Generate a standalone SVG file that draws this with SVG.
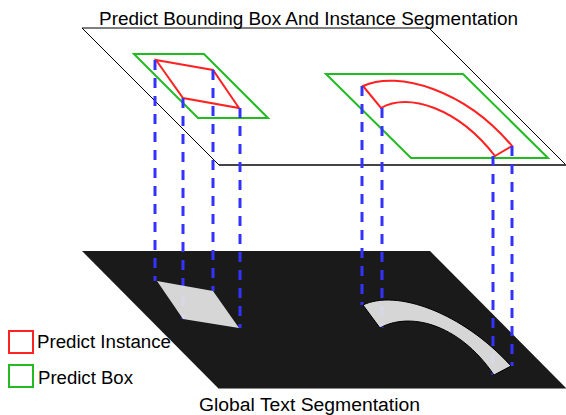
<svg xmlns="http://www.w3.org/2000/svg" width="566" height="415" viewBox="0 0 566 415">
<style>
.lbl{font-family:"Liberation Sans",Arial,sans-serif;font-size:18px;fill:#000}
.box{fill:none;stroke:#22bb22;stroke-width:2}
.inst{fill:none;stroke:#ff2222;stroke-width:2}
.seg{fill:#e6e6e6;fill-opacity:0.92}
.proj{stroke:#3333ff;stroke-width:3;stroke-dasharray:10 8;fill:none}
</style>
<rect width="566" height="415" fill="#fff"/>
<g id="top-plane">
<polygon points="82,28 429,28 566,165 219,165" fill="#fff" stroke="#000" stroke-width="1"/>
<line x1="219" y1="165" x2="566" y2="165" stroke="#444" stroke-width="2"/>
</g>
<g id="bottom-plane">
<polygon points="82,251 430,251 566,388 218,388" fill="#1a1a1a"/>
<line x1="218" y1="388.5" x2="566" y2="388.5" stroke="#888" stroke-width="1"/>
</g>
<g id="box-left"><polygon class="box" points="134,54 204,54 268,118 198,118"/></g>
<g id="instance-left"><polygon class="inst" points="156,60 213,70 239,108 183,98"/></g>
<g id="box-right"><polygon class="box" points="326,74 463,74 548,158 411,158"/></g>
<g id="instance-right"><path class="inst" d="M363,86 C398,70 465,90 512,146 L495,156 C458,108 408,92 381,108 Z"/></g>
<g id="connectors">
<line class="proj" x1="155" y1="60" x2="155" y2="281"/>
<line class="proj" x1="183" y1="98" x2="183" y2="319"/>
<line class="proj" x1="213" y1="70" x2="213" y2="291"/>
<line class="proj" x1="240" y1="108" x2="240" y2="328"/>
<line class="proj" x1="362" y1="86" x2="362" y2="305"/>
<line class="proj" x1="382" y1="108" x2="382" y2="328"/>
<line class="proj" x1="493" y1="156" x2="493" y2="375"/>
<line class="proj" x1="512" y1="146" x2="512" y2="366"/>
</g>
<g id="seg-left"><polygon class="seg" points="157,281 213,291 239,328 183,319"/></g>
<g id="seg-right"><path class="seg" stroke="#000" stroke-width="1" d="M363,305 C396,289 462,312 511,366 L494,375 C458,322 408,312 380,328 Z"/></g>
<g id="legend">
<rect x="9" y="331" width="24" height="22" fill="#fff" stroke="#ff2222" stroke-width="2"/>
<rect x="9" y="365" width="24" height="22" fill="#fff" stroke="#22bb22" stroke-width="2"/>
<text class="lbl" x="37" y="348" textLength="134" lengthAdjust="spacingAndGlyphs">Predict Instance</text>
<text class="lbl" x="38" y="384" textLength="95" lengthAdjust="spacingAndGlyphs">Predict Box</text>
</g>
<g id="titles">
<text class="lbl" x="99" y="25" textLength="419" lengthAdjust="spacingAndGlyphs">Predict Bounding Box And Instance Segmentation</text>
<text class="lbl" x="199" y="411" textLength="221" lengthAdjust="spacingAndGlyphs">Global Text Segmentation</text>
</g>
</svg>
